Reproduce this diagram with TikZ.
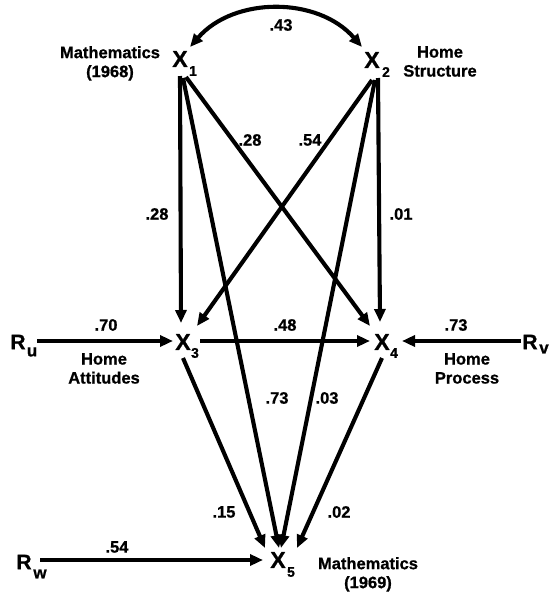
\documentclass[tikz,border=0pt]{standalone}
\usepackage{fontspec}
\setmainfont{Liberation Sans}[BoldFeatures={FakeBold=0.8}]
\usetikzlibrary{arrows.meta,calc}
\begin{document}
\begin{tikzpicture}[x=1pt,y=-1pt,
  tip/.tip={Triangle[length=13pt,width=11pt]},
  arr/.style={line width=4.1pt,-tip},
  dbl/.style={line width=4.1pt,tip-tip},
  varx/.style={inner sep=0pt,font=\fontsize{23}{23}\selectfont\bfseries},
  subx/.style={inner sep=0pt,font=\fontsize{14}{14}\selectfont\bfseries},
  coef/.style={inner sep=0pt,font=\fontsize{16.5}{16.5}\selectfont\bfseries},
  desc/.style={inner sep=0pt,anchor=north,align=center,font=\fontsize{16.5}{19}\selectfont\bfseries},
  resid/.style={inner sep=0pt,font=\fontsize{21}{21}\selectfont\bfseries},
  rsub/.style={inner sep=0pt,font=\fontsize{17}{17}\selectfont\bfseries}]
\useasboundingbox[fill=white] (0,0) rectangle (553,592);

% variables
\node[varx] (x1) at (180,59) {X};
\node[subx] (s1) at (193,71) {1};
\node[varx] (x2) at (372,60) {X};
\node[subx] (s2) at (386,72) {2};
\node[varx] (x3) at (183,342) {X};
\node[subx] (s3) at (195,353) {3};
\node[varx] (x4) at (382,342) {X};
\node[subx] (s4) at (394,353) {4};
\node[varx] (x5) at (278,560) {X};
\node[subx] (s5) at (291,572) {5};

% residuals
\node[resid] (ru) at (18,342) {R};
\node[rsub] (su) at (32,352) {u};
\node[resid] (rv) at (530,342) {R};
\node[rsub] (sv) at (544,349) {v};
\node[resid] (rw) at (24,562) {R};
\node[rsub] (sw) at (40,574) {w};

% descriptions
\node[desc] (d1) at (110,46) {Mathematics\\(1968)};
\node[desc] (d2) at (440,46) {Home\\Structure};
\node[desc] (d3) at (104,353) {Home\\Attitudes};
\node[desc] (d4) at (467,353) {Home\\Process};
\node[desc] (d5) at (368,557) {Mathematics\\(1969)};

% paths
\draw[dbl] ($(x1)+(10,-12)$) to[out=49,in=131] ($(x2)+(-10,-13)$);
\draw[arr] ($(x1)+(0,17)$) -- ($(x3)+(-2,-19)$);
\draw[arr] ($(x2)+(6,18)$) -- ($(x4)+(-2,-20)$);
\draw[arr] ($(x1)+(6,18)$) -- ($(x4)+(-12,-16)$);
\draw[arr] ($(x2)+(0,20)$) -- ($(x3)+(14,-16)$);
\draw[arr] ($(x1)+(3,19)$) -- ($(x5)+(1,-12)$);
\draw[arr] ($(x2)+(3,20)$) -- ($(x5)+(3,-12)$);
\draw[arr] ($(x3)+(0,16)$) -- ($(x5)+(-13,-12)$);
\draw[arr] ($(x4)+(0,16)$) -- ($(x5)+(19,-12)$);
\draw[arr] ($(x3)+(17,-1)$) -- ($(x4)+(-12,-1)$);
\draw[arr] ($(ru)+(19,-1)$) -- ($(x3)+(-10,-1)$);
\draw[arr] ($(rv)+(-9,-1)$) -- ($(x4)+(20,-1)$);
\draw[arr] ($(rw)+(16,-2)$) -- ($(x5)+(-15,0)$);

% coefficients
\node[coef] (c12) at (281,25) {.43};
\node[coef] (c13) at (157,214) {.28};
\node[coef] (c24) at (401,214) {.01};
\node[coef] (c14) at (250,140) {.28};
\node[coef] (c23) at (310,140) {.54};
\node[coef] (cu) at (106,325) {.70};
\node[coef] (c34) at (285,325) {.48};
\node[coef] (cv) at (456,325) {.73};
\node[coef] (c15) at (277,398) {.73};
\node[coef] (c25) at (327,398) {.03};
\node[coef] (c35) at (224,512) {.15};
\node[coef] (c45) at (339,512) {.02};
\node[coef] (cw) at (117,547) {.54};
\end{tikzpicture}
\end{document}
